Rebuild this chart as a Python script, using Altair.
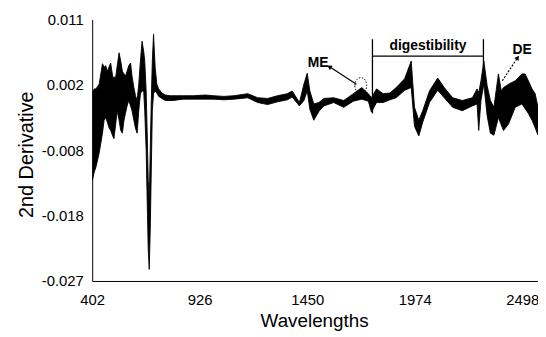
import altair as alt
import pandas as pd

# ---- spectrum envelope (upper / lower edge of the overlaid spectra) ----
wl = [403, 412, 420, 436, 452, 460, 468, 476, 484, 492, 503, 508, 516, 524, 533, 541,
      549, 557, 564, 572, 580, 589, 596, 605, 613, 621, 629, 637, 645, 653, 658, 665,
      670, 675, 680, 685, 690, 695, 701, 709, 717, 726, 742, 758, 782,
      796, 846, 895, 953, 994, 1044, 1094, 1160, 1209, 1257, 1305, 1353, 1377, 1412,
      1434, 1450, 1463, 1482, 1507, 1531, 1579, 1628, 1675, 1716, 1748, 1763, 1788,
      1820, 1853, 1884, 1925, 1957, 1973, 1994, 2013, 2046, 2086, 2118, 2159, 2206,
      2255, 2278, 2286, 2297, 2311, 2327, 2343, 2360, 2382, 2396, 2407, 2432, 2464,
      2497, 2512, 2528, 2546, 2561, 2575]
hi = [0.0004, 0.0010, 0.0010, 0.0017, 0.0047, 0.0042, 0.0044, 0.0036, 0.0042, 0.0048,
      0.0026, 0.0028, 0.0026, 0.0044, 0.0063, 0.0051, 0.0036, 0.0032, 0.0029, 0.0036,
      0.0044, 0.0048, 0.0029, 0.0012, 0.0000, -0.0007, 0.0017, 0.0051, 0.0080, 0.0065,
      0.0051, 0.0007, -0.0055, -0.0124, -0.0153, -0.0080, -0.0007, 0.0051, 0.0090,
      0.0041, 0.0017, 0.0010, 0.0004, 0.0001, 0.0000,
      0.0000, 0.0000, 0.0000, 0.0001, 0.0000, -0.0001, 0.0000, 0.0003, -0.0003, -0.0004,
      0.0000, 0.0003, 0.0007, -0.0010, 0.0017, 0.0033, 0.0007, -0.0012, -0.0010, -0.0004,
      -0.0003, -0.0007, 0.0003, 0.0012, 0.0003, -0.0003, 0.0010, 0.0003, 0.0004, 0.0012,
      0.0025, 0.0051, -0.0017, -0.0036, -0.0022, 0.0007, 0.0026, 0.0012, -0.0003,
      -0.0007, -0.0003, 0.0010, 0.0004, 0.0022, 0.0051, 0.0015, -0.0007, -0.0017,
      0.0032, 0.0007, 0.0012, 0.0017, 0.0022, 0.0032, 0.0032, 0.0022, 0.0010, 0.0003,
      -0.0017]
lo = [-0.0124, -0.0112, -0.0105, -0.0084, -0.0055, -0.0036, -0.0032, -0.0039, -0.0047,
      -0.0051, -0.0060, -0.0063, -0.0043, -0.0022, -0.0036, -0.0051, -0.0055, -0.0036,
      -0.0026, -0.0015, -0.0007, -0.0015, -0.0022, -0.0036, -0.0048, -0.0055, -0.0022,
      0.0003, 0.0007, 0.0007, -0.0022, -0.0080, -0.0153, -0.0225, -0.0255, -0.0196,
      -0.0109, -0.0022, 0.0003, 0.0007, 0.0004, -0.0001, -0.0004, -0.0007, -0.0007,
      -0.0007, -0.0005, -0.0005, -0.0005, -0.0005, -0.0006, -0.0005, -0.0003, -0.0010,
      -0.0013, -0.0009, -0.0006, -0.0002, -0.0015, -0.0007, 0.0007, -0.0020, -0.0036,
      -0.0023, -0.0015, -0.0010, -0.0017, -0.0008, -0.0005, -0.0008, -0.0024, -0.0010,
      -0.0010, -0.0006, -0.0003, 0.0008, 0.0012, -0.0045, -0.0059, -0.0039, -0.0010,
      0.0008, -0.0003, -0.0017, -0.0022, -0.0015, -0.0012, -0.0051, -0.0007, 0.0017,
      -0.0029, -0.0055, -0.0058, -0.0032, -0.0043, -0.0051, -0.0041, -0.0017, -0.0012,
      -0.0019, -0.0026, -0.0036, -0.0047, -0.0058]

# ---- axes ----
x_ticks = [402, 926, 1450, 1974, 2498]
y_ticks = [0.0112, 0.0016, -0.0080, -0.0176, -0.0272]
x_domain = [402, 2575]
y_domain = [-0.0272, 0.0112]

# ---- annotations ----
label_text = ["ME", "digestibility", "DE"]
label_wl = [1503, 2039, 2498]
label_val = [0.0048, 0.0073, 0.0067]

bracket_x1 = [1768, 2309, 1768]
bracket_x2 = [1768, 2309, 2309]
bracket_y1 = [0.0083, 0.0083, 0.0058]
bracket_y2 = [-0.0026, 0.0044, 0.0058]

me_arrow = {"x1": [1690], "y1": [0.0017], "x2": [1561], "y2": [0.0042]}
de_arrow = {"x1": [2401], "y1": [0.0022], "x2": [2474], "y2": [0.0055]}
head_wl = [1561, 2474]
head_val = [0.0042, 0.0055]
head_angle = [302, 33]
ring_wl = [1711]
ring_val = [0.0015]

FONT = "Liberation Sans"

df = pd.DataFrame({"wl": wl, "hi": hi, "lo": lo})
xs = alt.Scale(domain=x_domain, nice=False, zero=False)
ys = alt.Scale(domain=y_domain, nice=False, zero=False)

x_axis = alt.Axis(values=x_ticks, format="d", title="Wavelengths", grid=False, ticks=False,
                  labelFlush=False, labelOverlap=False, labelFontSize=15, labelFont=FONT,
                  labelColor="black", labelPadding=12, domainColor="black", domainWidth=1,
                  titleFont=FONT, titleFontSize=19, titleFontWeight="normal",
                  titleColor="black", titleX=224, titleY=46, titleBaseline="alphabetic",
                  titleAlign="center")
y_axis = alt.Axis(values=y_ticks, title="2nd Derivative", grid=False, ticks=False,
                  labelFlush=False, labelOverlap=False, labelFontSize=15, labelFont=FONT,
                  labelColor="black", labelPadding=9, domainColor="black", domainWidth=1,
                  labelExpr="replace(format(datum.value, '.3f'), '\u2212', '-')",
                  titleFont=FONT, titleFontSize=20, titleFontWeight="normal",
                  titleColor="black", titleX=-66, titleY=136, titleAngle=-90,
                  titleAlign="center", titleBaseline="middle")

base = alt.Chart(df)
band = base.mark_area(color="black", opacity=1).encode(
    x=alt.X("wl:Q", scale=xs, axis=x_axis),
    y=alt.Y("hi:Q", scale=ys, axis=y_axis),
    y2="lo:Q",
)
hi_line = base.mark_line(color="black", strokeWidth=0.9).encode(
    x=alt.X("wl:Q", scale=xs), y=alt.Y("hi:Q", scale=ys))
lo_line = base.mark_line(color="black", strokeWidth=0.9).encode(
    x=alt.X("wl:Q", scale=xs), y=alt.Y("lo:Q", scale=ys))

bdf = pd.DataFrame({"x1": bracket_x1, "x2": bracket_x2, "y1": bracket_y1, "y2": bracket_y2})
bracket = alt.Chart(bdf).mark_rule(color="black", strokeWidth=1.3).encode(
    x=alt.X("x1:Q", scale=xs), x2="x2:Q", y=alt.Y("y1:Q", scale=ys), y2="y2:Q")

me_line = alt.Chart(pd.DataFrame(me_arrow)).mark_rule(color="black", strokeWidth=1.2).encode(
    x=alt.X("x1:Q", scale=xs), x2="x2:Q", y=alt.Y("y1:Q", scale=ys), y2="y2:Q")
de_line = alt.Chart(pd.DataFrame(de_arrow)).mark_rule(
    color="black", strokeWidth=1.2, strokeDash=[2, 1.5]).encode(
    x=alt.X("x1:Q", scale=xs), x2="x2:Q", y=alt.Y("y1:Q", scale=ys), y2="y2:Q")

heads = alt.Chart(pd.DataFrame({"wl": head_wl, "v": head_val, "a": head_angle})).mark_point(
    shape="triangle", filled=True, color="black", size=28, opacity=1).encode(
    x=alt.X("wl:Q", scale=xs), y=alt.Y("v:Q", scale=ys),
    angle=alt.Angle("a:Q", scale=None))

ring = alt.Chart(pd.DataFrame({"wl": ring_wl, "v": ring_val})).mark_point(
    shape="M -0.75 0 A 0.75 1 0 1 1 0.75 0 A 0.75 1 0 1 1 -0.75 0 Z",
    filled=False, color="black", strokeWidth=0.9, strokeDash=[1.5, 1.5],
    size=256, opacity=1).encode(
    x=alt.X("wl:Q", scale=xs), y=alt.Y("v:Q", scale=ys))

labels = alt.Chart(pd.DataFrame({"t": label_text, "wl": label_wl, "v": label_val})).mark_text(
    font=FONT, fontSize=14, fontWeight="bold", color="black", align="center",
    baseline="middle").encode(
    x=alt.X("wl:Q", scale=xs), y=alt.Y("v:Q", scale=ys), text="t:N")

chart = alt.layer(band, hi_line, lo_line, bracket, me_line, de_line, heads, ring, labels).properties(
    width=450, height=264,
    autosize=alt.AutoSizeParams(type="none"),
    padding={"left": 85, "top": 10, "right": 0, "bottom": 55},
    background="white",
).configure_view(stroke=None)

chart.save("out.html", embed_options={"renderer": "svg", "actions": False})
